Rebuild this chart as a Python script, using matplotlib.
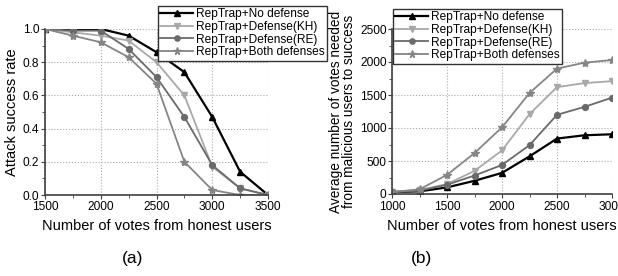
import matplotlib.pyplot as plt
from matplotlib.ticker import MultipleLocator

plt.rcParams['font.family'] = ['Liberation Sans', 'DejaVu Sans']

# (a) attack success rate
votes_a = [1500, 1750, 2000, 2250, 2500, 2750, 3000, 3250, 3500]
rate_none = [1.0, 1.0, 1.0, 0.96, 0.86, 0.74, 0.47, 0.14, 0.0]
rate_kh = [1.0, 0.98, 0.96, 0.93, 0.80, 0.60, 0.17, 0.04, 0.0]
rate_re = [1.0, 0.99, 0.99, 0.88, 0.71, 0.47, 0.18, 0.04, 0.0]
rate_both = [1.0, 0.96, 0.92, 0.83, 0.67, 0.20, 0.03, 0.0, 0.0]

# (b) votes needed from malicious users
votes_b = [1000, 1250, 1500, 1750, 2000, 2250, 2500, 2750, 3000]
need_none = [30, 40, 100, 200, 320, 570, 840, 890, 905]
need_kh = [30, 60, 150, 350, 660, 1210, 1620, 1680, 1710]
need_re = [30, 50, 140, 280, 440, 740, 1200, 1320, 1460]
need_both = [30, 70, 290, 620, 1010, 1530, 1900, 1990, 2030]

labels = ['RepTrap+No defense', 'RepTrap+Defense(KH)',
          'RepTrap+Defense(RE)', 'RepTrap+Both defenses']
styles = [('#000000', '^', 1.6), ('#a8a8a8', 'v', 1.3),
          ('#6a6a6a', 'o', 1.3), ('#858585', '*', 1.3)]

fig = plt.figure(figsize=(6.18, 2.76), dpi=100)
ax1 = fig.add_axes([45 / 618, 81 / 276, 223 / 618, 166 / 276])
ax2 = fig.add_axes([392 / 618, 82 / 276, 220 / 618, 165 / 276])


def style_axes(ax):
    for s in ['top', 'right']:
        ax.spines[s].set_visible(False)
    for s in ['left', 'bottom']:
        ax.spines[s].set_color('#404040')
        ax.spines[s].set_linewidth(1.2)
    ax.grid(True, linestyle=':', color='#aaaaaa', linewidth=0.8)
    ax.tick_params(direction='out', labelsize=8.6, length=3, color='#404040', pad=1)
    ax.tick_params(which='minor', length=2, color='#404040')


def add_legend(ax, x, y):
    ax.legend(loc='upper left', bbox_to_anchor=(x / 618, 1 - y / 276), bbox_transform=fig.transFigure,
              fontsize=8.6, frameon=True, fancybox=False, edgecolor='#333333', framealpha=1,
              borderpad=0.2, labelspacing=0.05, handlelength=2.7, handletextpad=0.25,
              borderaxespad=0, markerscale=0.9)


for ys, (c, m, lw), lab in zip([rate_none, rate_kh, rate_re, rate_both], styles, labels):
    ax1.plot(votes_a, ys, color=c, marker=m, lw=lw, ms=6 if m == '*' else 4.2, label=lab)
ax1.set_xlim(1500, 3500)
ax1.set_ylim(0, 1.0)
ax1.xaxis.set_major_locator(MultipleLocator(500))
ax1.xaxis.set_minor_locator(MultipleLocator(250))
ax1.yaxis.set_major_locator(MultipleLocator(0.2))
ax1.yaxis.set_minor_locator(MultipleLocator(0.1))
ax1.yaxis.set_major_formatter(plt.FormatStrFormatter('%.1f'))
style_axes(ax1)
ax1.set_xlabel('Number of votes from honest users', fontsize=10.5, labelpad=5)
ax1.set_ylabel('Attack success rate', fontsize=10.5, labelpad=3)
add_legend(ax1, 158, 6)

for ys, (c, m, lw), lab in zip([need_none, need_kh, need_re, need_both], styles, labels):
    ax2.plot(votes_b, ys, color=c, marker=m, lw=lw, ms=6 if m == '*' else 4.2, label=lab)
ax2.set_xlim(1000, 3000)
ax2.set_ylim(0, 2500)
ax2.xaxis.set_major_locator(MultipleLocator(500))
ax2.xaxis.set_minor_locator(MultipleLocator(250))
ax2.yaxis.set_major_locator(MultipleLocator(500))
ax2.yaxis.set_minor_locator(MultipleLocator(250))
style_axes(ax2)
ax2.tick_params(axis='x', pad=2)
ax2.set_xlabel('Number of votes from honest users', fontsize=10.5, labelpad=4)
ax2.set_ylabel('Average number of votes needed\nfrom malicious users to success',
               fontsize=9.8, labelpad=3, linespacing=0.9)
add_legend(ax2, 393, 9)

fig.text(133 / 618, 1 - 258 / 276, '(a)', fontsize=12.5, ha='center', va='center')
fig.text(422 / 618, 1 - 258 / 276, '(b)', fontsize=12.5, ha='center', va='center')

fig.savefig('out.png', dpi=100)
